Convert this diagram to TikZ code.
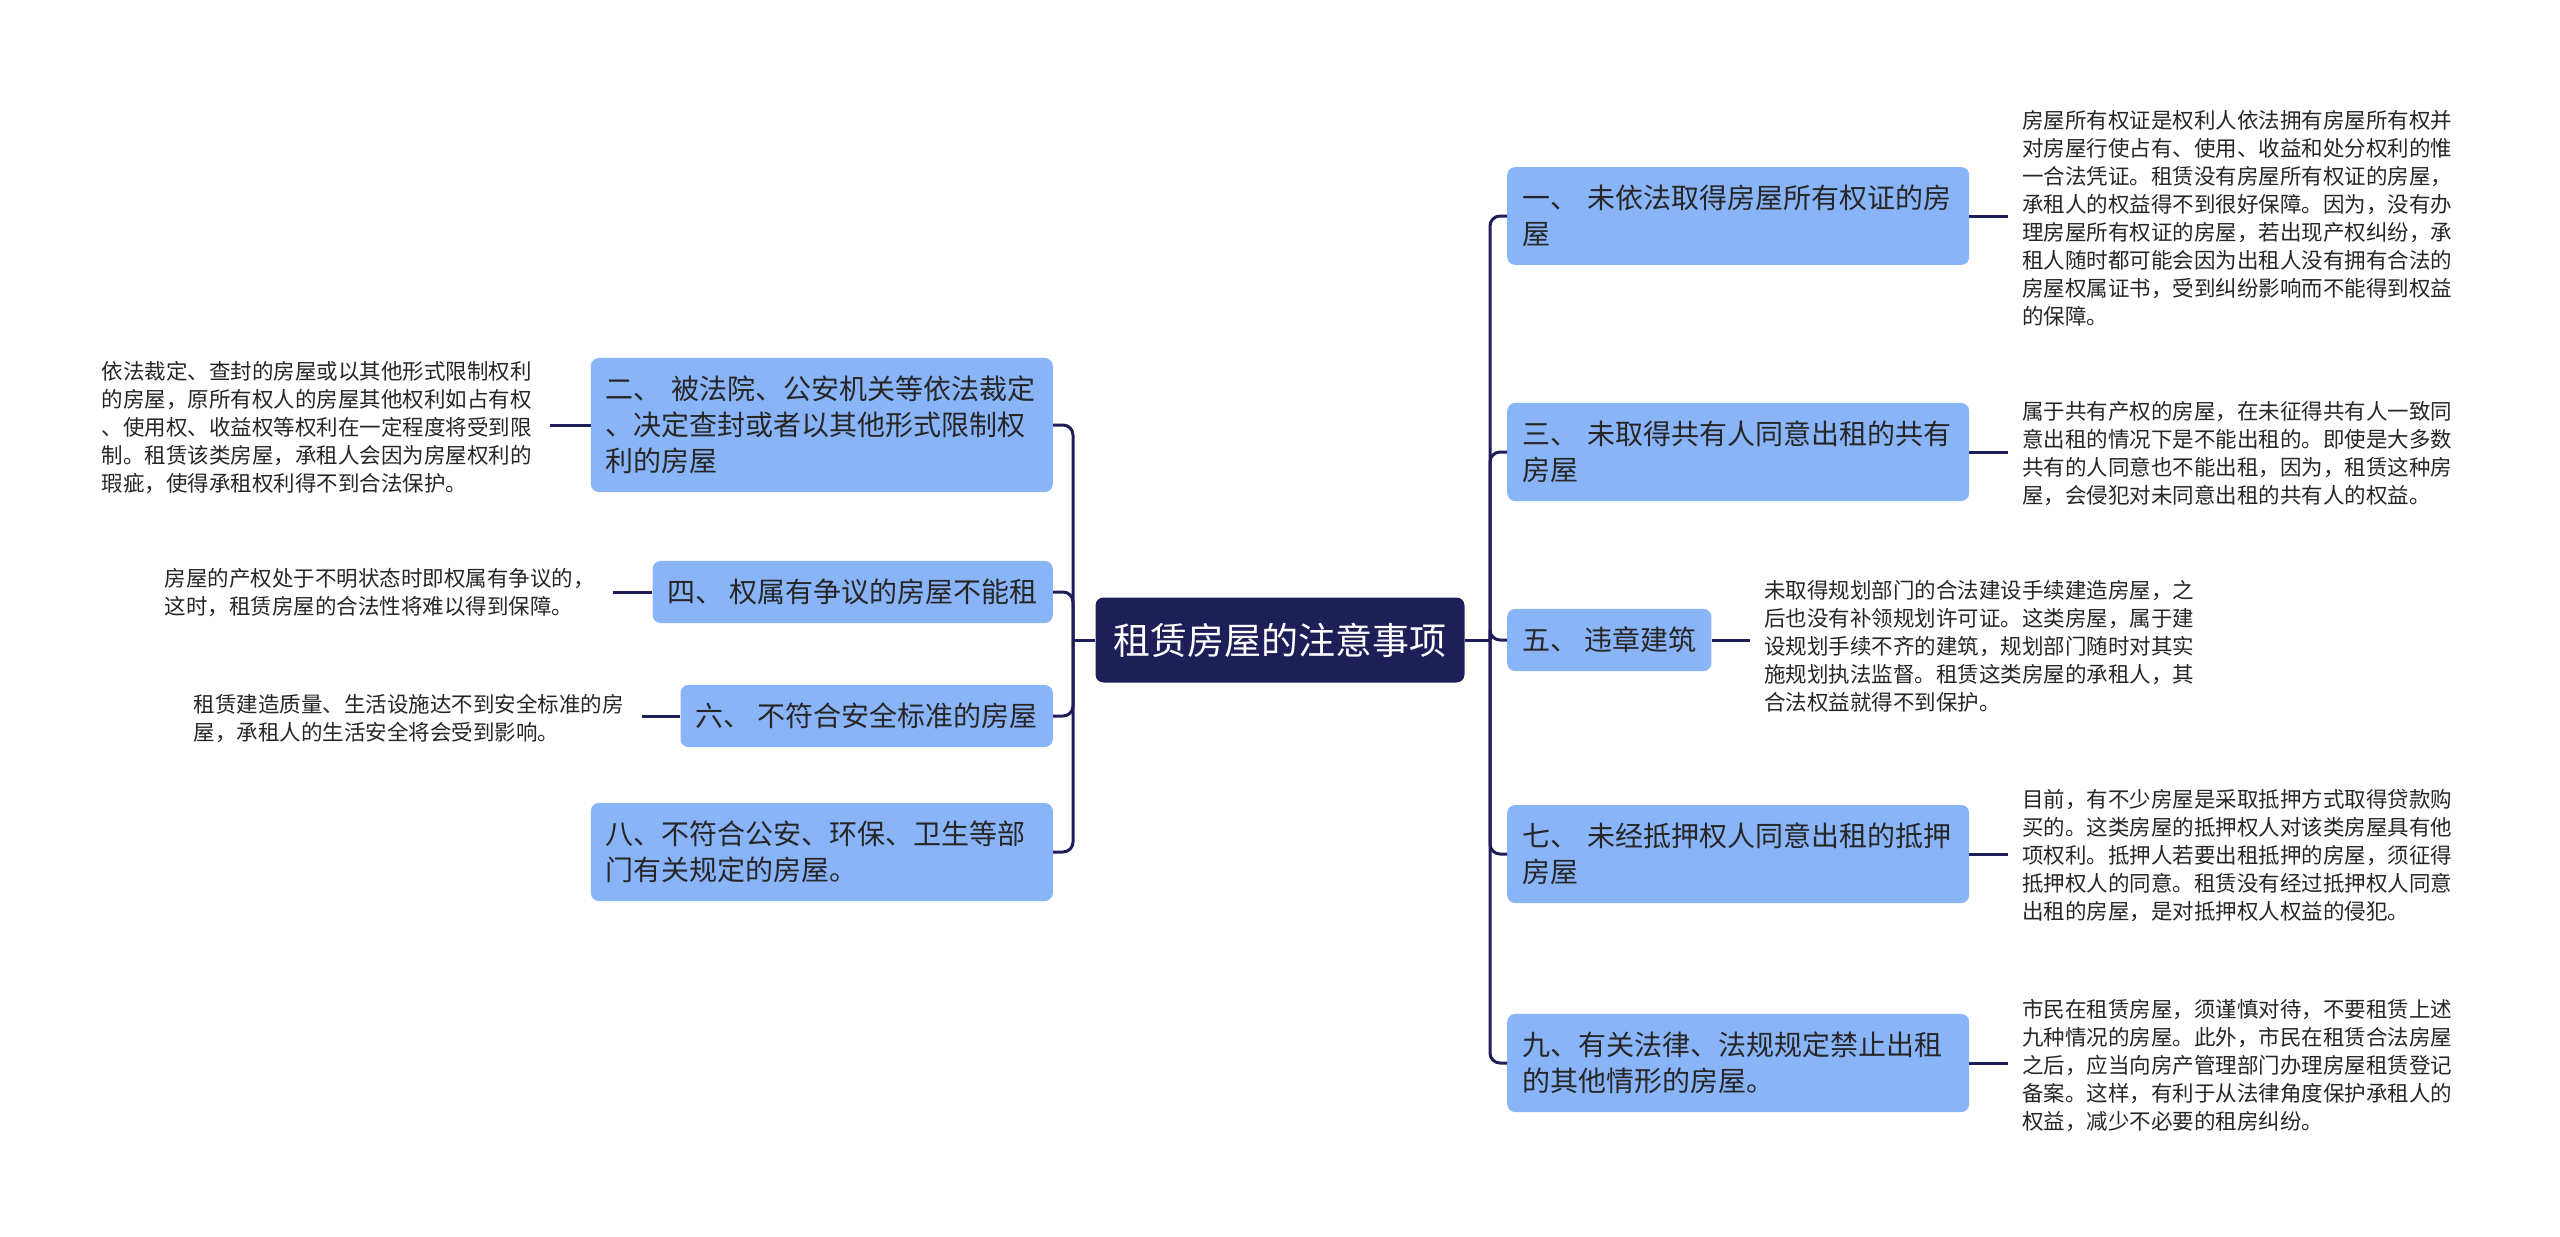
\documentclass[tikz,border=0pt]{standalone}
\usepackage{fontspec}
\setmainfont{Noto Sans CJK SC}
\definecolor{navy}{RGB}{30,30,88}
\definecolor{skyblue}{RGB}{138,180,248}
\begin{document}
\begin{tikzpicture}[x=1pt,y=-1pt,
  root/.style={fill=navy,text=white,rounded corners=8pt,inner xsep=18pt,minimum height=85pt,font=\fontsize{37pt}{44pt}\selectfont},
  branch/.style={fill=skyblue,text=black!85,rounded corners=8pt,inner xsep=15pt,inner ysep=18pt,align=left,font=\fontsize{28pt}{36pt}\selectfont},
  wide/.style={branch,text width=432pt},
  leaf/.style={text=black!85,inner xsep=14pt,inner ysep=0pt,align=left,text width=434pt,font=\fontsize{21.5pt}{28pt}\selectfont},
  conn/.style={draw=navy,line width=3pt,rounded corners=10pt}]
\useasboundingbox (0,0) rectangle (2560,1237);
\node[root] (root) at (1280,640) {租赁房屋的注意事项};
\coordinate (lspine) at (1073,640);
\coordinate (rspine) at (1490,640);
\node[wide,anchor=west] (n1) at (1507,216) {一、 未依法取得房屋所有权证的房\\屋};
\node[wide,anchor=west] (n3) at (1507,452) {三、 未取得共有人同意出租的共有\\房屋};
\node[branch,anchor=west] (n5) at (1507,640) {五、 违章建筑};
\node[wide,anchor=west] (n7) at (1507,854) {七、 未经抵押权人同意出租的抵押\\房屋};
\node[wide,anchor=west] (n9) at (1507,1063) {九、有关法律、法规规定禁止出租\\的其他情形的房屋。};
\node[wide,anchor=east] (n2) at (1053,425) {二、 被法院、公安机关等依法裁定\\、决定查封或者以其他形式限制权\\利的房屋};
\node[branch,anchor=east] (n4) at (1053,592) {四、 权属有争议的房屋不能租};
\node[branch,anchor=east] (n6) at (1053,716) {六、 不符合安全标准的房屋};
\node[wide,anchor=east] (n8) at (1053,852) {八、不符合公安、环保、卫生等部\\门有关规定的房屋。};
\node[leaf,anchor=west] (l1) at (2008,218) {房屋所有权证是权利人依法拥有房屋所有权并\\对房屋行使占有、使用、收益和处分权利的惟\\一合法凭证。租赁没有房屋所有权证的房屋，\\承租人的权益得不到很好保障。因为，没有办\\理房屋所有权证的房屋，若出现产权纠纷，承\\租人随时都可能会因为出租人没有拥有合法的\\房屋权属证书，受到纠纷影响而不能得到权益\\的保障。};
\node[leaf,anchor=west] (l3) at (2008,454) {属于共有产权的房屋，在未征得共有人一致同\\意出租的情况下是不能出租的。即使是大多数\\共有的人同意也不能出租，因为，租赁这种房\\屋，会侵犯对未同意出租的共有人的权益。};
\node[leaf,anchor=west] (l5) at (1750,646) {未取得规划部门的合法建设手续建造房屋，之\\后也没有补领规划许可证。这类房屋，属于建\\设规划手续不齐的建筑，规划部门随时对其实\\施规划执法监督。租赁这类房屋的承租人，其\\合法权益就得不到保护。};
\node[leaf,anchor=west] (l7) at (2008,856) {目前，有不少房屋是采取抵押方式取得贷款购\\买的。这类房屋的抵押权人对该类房屋具有他\\项权利。抵押人若要出租抵押的房屋，须征得\\抵押权人的同意。租赁没有经过抵押权人同意\\出租的房屋，是对抵押权人权益的侵犯。};
\node[leaf,anchor=west] (l9) at (2008,1066) {市民在租赁房屋，须谨慎对待，不要租赁上述\\九种情况的房屋。此外，市民在租赁合法房屋\\之后，应当向房产管理部门办理房屋租赁登记\\备案。这样，有利于从法律角度保护承租人的\\权益，减少不必要的租房纠纷。};
\node[leaf,anchor=east] (l2) at (550,428) {依法裁定、查封的房屋或以其他形式限制权利\\的房屋，原所有权人的房屋其他权利如占有权\\、使用权、收益权等权利在一定程度将受到限\\制。租赁该类房屋，承租人会因为房屋权利的\\瑕疵，使得承租权利得不到合法保护。};
\node[leaf,anchor=east] (l4) at (613,593) {房屋的产权处于不明状态时即权属有争议的，\\这时，租赁房屋的合法性将难以得到保障。};
\node[leaf,anchor=east] (l6) at (642,718) {租赁建造质量、生活设施达不到安全标准的房\\屋，承租人的生活安全将会受到影响。};
\draw[conn] (root.west) -- (lspine);
\draw[conn] (root.east) -- (rspine);
\foreach \n in {n2,n4,n6,n8} \draw[conn] (lspine) |- (\n.east);
\foreach \n in {n1,n3,n5,n7,n9} \draw[conn] (rspine) |- (\n.west);
\draw[conn] (n1.east) -- (n1.east -| l1.west);
\draw[conn] (n3.east) -- (n3.east -| l3.west);
\draw[conn] (n5.east) -- (n5.east -| l5.west);
\draw[conn] (n7.east) -- (n7.east -| l7.west);
\draw[conn] (n9.east) -- (n9.east -| l9.west);
\draw[conn] (n2.west) -- (n2.west -| l2.east);
\draw[conn] (n4.west) -- (n4.west -| l4.east);
\draw[conn] (n6.west) -- (n6.west -| l6.east);
\end{tikzpicture}
\end{document}
